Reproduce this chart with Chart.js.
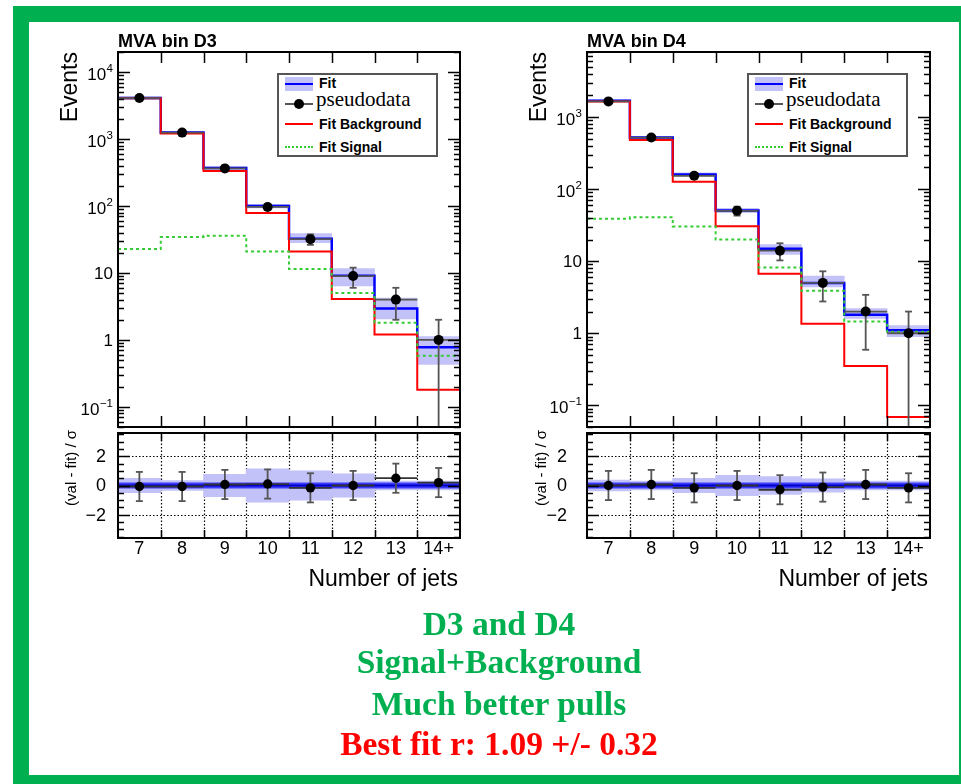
<!DOCTYPE html>
<html><head><meta charset="utf-8">
<script src="https://cdn.jsdelivr.net/npm/chart.js@4.4.1/dist/chart.umd.min.js"></script>
<style>
html,body{margin:0;padding:0;background:#fff;}
body{width:961px;height:784px;position:relative;overflow:hidden;font-family:"Liberation Sans",Arial,sans-serif;}
#frame{position:absolute;left:13px;top:6px;width:962px;height:785px;box-sizing:border-box;border:16px solid #00b050;z-index:5;}
canvas{position:absolute;left:0;top:0;}
.legend{position:absolute;border:2px solid #555;background:#fff;box-sizing:border-box;width:161px;height:84px;z-index:3;}
.legend .t{position:absolute;font:bold 14px "Liberation Sans",Arial,sans-serif;line-height:14px;white-space:nowrap;color:#000;}
.legend .ts{position:absolute;font:21px "Liberation Serif","Times New Roman",serif;line-height:20px;white-space:nowrap;color:#000;}
.legend .s{position:absolute;}
.cap{position:absolute;left:0;width:998px;text-align:center;font:bold 33.5px "Liberation Serif","Times New Roman",serif;line-height:40px;white-space:nowrap;z-index:3;}
</style></head>
<body>
<div id="frame"></div>
<canvas id="c1" width="961" height="784"></canvas>
<canvas id="c2" width="961" height="784"></canvas>
<canvas id="c3" width="961" height="784"></canvas>
<canvas id="c4" width="961" height="784"></canvas>

<div class="legend" style="left:277px;top:73px;">
  <div class="s" style="left:6px;top:2px;width:28px;height:14px;background:rgb(194,194,248);"></div>
  <div class="s" style="left:6px;top:8px;width:28px;height:2px;background:#0000ff;"></div>
  <div class="t" style="left:40px;top:1px;">Fit</div>
  <div class="s" style="left:6px;top:28px;width:28px;height:2px;background:#555;"></div>
  <div class="s" style="left:15px;top:24px;width:10px;height:10px;border-radius:5px;background:#000;"></div>
  <div class="ts" style="left:37px;top:14px;">pseudodata</div>
  <div class="s" style="left:6px;top:48px;width:28px;height:2px;background:#ff0000;"></div>
  <div class="t" style="left:40px;top:42px;">Fit Background</div>
  <div class="s" style="left:6px;top:71px;width:28px;height:0;border-top:2px dotted #33cc33;"></div>
  <div class="t" style="left:40px;top:65px;">Fit Signal</div>
</div>
<div class="legend" style="left:747px;top:73px;">
  <div class="s" style="left:6px;top:2px;width:28px;height:14px;background:rgb(194,194,248);"></div>
  <div class="s" style="left:6px;top:8px;width:28px;height:2px;background:#0000ff;"></div>
  <div class="t" style="left:40px;top:1px;">Fit</div>
  <div class="s" style="left:6px;top:28px;width:28px;height:2px;background:#555;"></div>
  <div class="s" style="left:15px;top:24px;width:10px;height:10px;border-radius:5px;background:#000;"></div>
  <div class="ts" style="left:37px;top:14px;">pseudodata</div>
  <div class="s" style="left:6px;top:48px;width:28px;height:2px;background:#ff0000;"></div>
  <div class="t" style="left:40px;top:42px;">Fit Background</div>
  <div class="s" style="left:6px;top:71px;width:28px;height:0;border-top:2px dotted #33cc33;"></div>
  <div class="t" style="left:40px;top:65px;">Fit Signal</div>
</div>

<div class="cap" style="top:604px;color:#00b050;">D3 and D4</div>
<div class="cap" style="top:642px;color:#00b050;">Signal+Background</div>
<div class="cap" style="top:684px;color:#00b050;">Much better pulls</div>
<div class="cap" style="top:724px;color:#ff0000;">Best fit r: 1.09 +/- 0.32</div>

<script>
// ---------- data ----------
const cats = ['7','8','9','10','11','12','13','14+'];

const d3Fit     = [4100, 1250, 369, 100, 32.5, 9.1, 2.95, 0.78];
const d3Bkg     = [4077, 1215, 333, 79, 21, 4.1, 1.2, 0.18];
const d3Sig     = [22.8, 34.5, 36, 21, 11.5, 5.0, 1.8, 0.58];
const d3Data    = [4100, 1250, 365, 97, 32, 9, 4, 1];
const d3DataErr = [64, 35.4, 19.1, 9.8, 5.7, 3, 2, 1];
const d3BandLo  = [3930, 1200, 352, 94, 28.4, 6.4, 2.06, 0.43];
const d3BandHi  = [4280, 1300, 387, 106, 38.6, 11.6, 4.2, 1.12];
const d3Pull     = [-0.07, -0.07, 0.07, 0.1, -0.16, 0.0, 0.5, 0.2];
const d3PullErr  = [1, 1, 1, 1, 1, 1, 1, 1];
const d3PullBand = [0.5, 0.34, 0.77, 1.15, 1.0, 0.8, 0.3, 0.3];

const d4Fit     = [1680, 521, 160, 50.5, 14.9, 5.0, 1.8, 1.1];
const d4Bkg     = [1640, 482, 127, 30.6, 6.7, 1.35, 0.35, 0.069];
const d4Sig     = [38.8, 40.7, 30.4, 20, 8.2, 3.9, 1.46, 1.05];
const d4Data    = [1650, 520, 153, 50, 14, 5, 2, 1];
const d4DataErr = [40.6, 22.8, 12.4, 7.1, 3.74, 2.24, 1.41, 1];
const d4BandLo  = [1620, 500, 152, 47, 12.4, 4.4, 1.6, 0.9];
const d4BandHi  = [1740, 542, 168, 54, 17, 6.2, 2.2, 1.28];
const d4Pull     = [0.0, 0.07, -0.16, 0.0, -0.29, -0.11, 0.07, -0.16];
const d4PullErr  = [1, 1, 1, 1, 1, 1, 1, 1];
const d4PullBand = [0.37, 0.3, 0.5, 0.7, 0.62, 0.45, 0.3, 0.3];

const yTickDecadesD3 = [-1, 0, 1, 2, 3, 4];
const yTickDecadesD4 = [-1, 0, 1, 2, 3];
const pullTicks = [-2, 0, 2];

// ---------- helpers ----------
const BAND = 'rgb(194,194,248)';
const FONT = '"Liberation Sans", Arial, sans-serif';
const cfgs = {};

function stepPts(v){ const p = v.map((y,i)=>({x:i,y:y})); p.push({x:v.length,y:v[v.length-1]}); return p; }
function centerPts(v){ return v.map((y,i)=>({x:i+0.5,y:y})); }
function bandPts(lo,hi){ return lo.map((l,i)=>({x:i+0.5,y:[l,hi[i]]})); }

function line(ctx,x1,y1,x2,y2){ ctx.beginPath(); ctx.moveTo(x1,y1); ctx.lineTo(x2,y2); ctx.stroke(); }

const hep = {
  id:'hep',
  beforeDatasetsDraw(chart){
    const c = cfgs[chart.canvas.id]; if(!c || c.kind!=='pull') return;
    const ctx=chart.ctx, a=chart.chartArea, xs=chart.scales.x, ys=chart.scales.y;
    ctx.save(); ctx.strokeStyle='#000'; ctx.lineWidth=1.2; ctx.setLineDash([1.5,2]);
    for(let k=1;k<cats.length;k++){ const px=Math.round(xs.getPixelForValue(k))+0.5; line(ctx,px,a.top,px,a.bottom); }
    [-2,2].forEach(v=>{ const py=Math.round(ys.getPixelForValue(v))+0.5; line(ctx,a.left,py,a.right,py); });
    ctx.restore();
  },
  beforeDatasetDraw(chart,args){
    if(args.index!==0) return;
    const c = cfgs[chart.canvas.id]; if(!c) return;
    const ctx=chart.ctx, a=chart.chartArea, xs=chart.scales.x, ys=chart.scales.y;
    ctx.save(); ctx.strokeStyle='#555'; ctx.lineWidth=1.8;
    c.vals.forEach((v,i)=>{
      const xc=xs.getPixelForValue(i+0.5), xl=xs.getPixelForValue(i), xr=xs.getPixelForValue(i+1);
      const y=ys.getPixelForValue(v);
      const hi=v+c.errs[i], lo=v-c.errs[i];
      const yh=ys.getPixelForValue(hi);
      let yl, clamp=false;
      if(c.kind==='top' && lo<=ys.min){ yl=a.bottom; clamp=true; } else yl=ys.getPixelForValue(lo);
      line(ctx,xc,yh,xc,yl);
      line(ctx,xc-3.5,yh,xc+3.5,yh);
      if(!clamp) line(ctx,xc-3.5,yl,xc+3.5,yl);
      ctx.strokeStyle = c.kind==='pull' ? '#333' : '#555';
      line(ctx,xl,y,xr,y);
      ctx.strokeStyle='#555';
    });
    ctx.restore();
  },
  afterDraw(chart){
    const c = cfgs[chart.canvas.id]; if(!c) return;
    const ctx=chart.ctx, a=chart.chartArea, xs=chart.scales.x, ys=chart.scales.y;
    ctx.save(); ctx.strokeStyle='#000'; ctx.fillStyle='#000'; ctx.lineWidth=1.5; ctx.setLineDash([]);
    const tl = c.kind==='top'?11:8;
    for(let k=1;k<cats.length;k++){ const px=Math.round(xs.getPixelForValue(k))+0.5;
      line(ctx,px,a.top,px,a.top+tl); line(ctx,px,a.bottom,px,a.bottom-tl); }
    if(c.kind==='top'){
      const e0=Math.floor(Math.log10(ys.min)), e1=Math.ceil(Math.log10(ys.max));
      for(let e=e0;e<=e1;e++){ for(let m=1;m<=9;m++){ const v=m*Math.pow(10,e);
        if(v<ys.min||v>ys.max) continue; const py=Math.round(ys.getPixelForValue(v))+0.5; const len=m===1?12:6;
        line(ctx,a.left,py,a.left+len,py); line(ctx,a.right,py,a.right-len,py); } }
      c.decades.forEach(e=>{
        const py=ys.getPixelForValue(Math.pow(10,e)); const rx=a.left-5;
        ctx.textBaseline='middle';
        if(e===0||e===1){ ctx.font='17px '+FONT; ctx.textAlign='right'; ctx.fillText(e===0?'1':'10',rx,py+1); }
        else { const ex = e<0 ? '\u2212'+(-e) : String(e);
          ctx.font='11.5px '+FONT; const ew=ctx.measureText(ex).width; ctx.textAlign='right'; ctx.fillText(ex,rx,py-3);
          ctx.font='17px '+FONT; ctx.fillText('10',rx-ew-0.5,py+3); }
      });
      ctx.font='bold 18px '+FONT; ctx.textAlign='left'; ctx.textBaseline='alphabetic'; ctx.fillText(c.title,a.left,47);
      ctx.save(); ctx.translate(c.ytX,a.top); ctx.rotate(-Math.PI/2); ctx.font='23px '+FONT; ctx.textAlign='right'; ctx.textBaseline='alphabetic'; ctx.fillText('Events',0,0); ctx.restore();
    } else {
      for(let v=-3.5; v<=3.5001; v+=0.5){ const py=Math.round(ys.getPixelForValue(v))+0.5; const len=(Math.abs(v)%2===0)?12:6;
        line(ctx,a.left,py,a.left+len,py); line(ctx,a.right,py,a.right-len,py); }
      ctx.font='18px '+FONT; ctx.textAlign='right'; ctx.textBaseline='middle';
      pullTicks.forEach(v=>{ const py=ys.getPixelForValue(v); ctx.fillText(v<0?'\u2212'+(-v):String(v),a.left-c.labGap,py+1); });
      ctx.textAlign='center';
      cats.forEach((t,i)=>{ ctx.fillText(t,xs.getPixelForValue(i+0.5),549); });
      ctx.font='23px '+FONT; ctx.textAlign='right'; ctx.textBaseline='alphabetic'; ctx.fillText('Number of jets',a.right-2,586);
      ctx.save(); ctx.translate(c.ytX,430); ctx.rotate(-Math.PI/2); ctx.font='15px '+FONT; ctx.textAlign='right'; ctx.textBaseline='alphabetic'; ctx.fillText('(val - fit) / \u03c3',0,0); ctx.restore();
    }
    ctx.lineWidth=2; ctx.strokeRect(Math.round(a.left),Math.round(a.top),Math.round(a.right-a.left),Math.round(a.bottom-a.top));
    ctx.restore();
  }
};

function topChart(id, pad, fit, bkg, sig, dat, err, lo, hi, ymin, ymax, title, decades, ytX){
  cfgs[id] = {kind:'top', vals:dat, errs:err, title:title, decades:decades, ytX:ytX};
  return new Chart(document.getElementById(id), {
    type:'line',
    data:{ datasets:[
      {type:'scatter', data:centerPts(dat), pointRadius:5, pointBackgroundColor:'#000', pointBorderColor:'#000', pointBorderWidth:0, showLine:false},
      {data:stepPts(sig), stepped:true, borderColor:'#33cc33', borderWidth:2, borderDash:[3,3], pointRadius:0, fill:false},
      {data:stepPts(bkg), stepped:true, borderColor:'#ff0000', borderWidth:2, pointRadius:0, fill:false},
      {data:stepPts(fit), stepped:true, borderColor:'#0000ff', borderWidth:2.5, pointRadius:0, fill:false},
      {type:'bar', data:bandPts(lo,hi), backgroundColor:BAND, borderWidth:0, barPercentage:1, categoryPercentage:1}
    ]},
    options:{
      responsive:false, animation:false, events:[],
      layout:{padding:pad},
      plugins:{legend:{display:false}, tooltip:{enabled:false}, title:{display:false}},
      scales:{
        x:{type:'linear', min:0, max:cats.length, offset:false, display:false},
        y:{type:'logarithmic', min:ymin, max:ymax, display:false}
      }
    },
    plugins:[hep]
  });
}

function pullChart(id, pad, pull, perr, band, labGap, ytX){
  cfgs[id] = {kind:'pull', vals:pull, errs:perr, labGap:labGap, ytX:ytX};
  const lo = band.map(b=>-b), hi = band.slice();
  return new Chart(document.getElementById(id), {
    type:'line',
    data:{ datasets:[
      {type:'scatter', data:centerPts(pull), pointRadius:4.7, pointBackgroundColor:'#000', pointBorderColor:'#000', pointBorderWidth:0, showLine:false},
      {data:[{x:0,y:0},{x:cats.length,y:0}], borderColor:'#0000c8', borderWidth:2, pointRadius:0, fill:false},
      {data:[{x:0,y:0},{x:cats.length,y:0}], borderColor:'rgb(60,60,255)', borderWidth:6, pointRadius:0, fill:false},
      {type:'bar', data:bandPts(lo,hi), backgroundColor:BAND, borderWidth:0, barPercentage:1, categoryPercentage:1}
    ]},
    options:{
      responsive:false, animation:false, events:[],
      layout:{padding:pad},
      plugins:{legend:{display:false}, tooltip:{enabled:false}, title:{display:false}},
      scales:{
        x:{type:'linear', min:0, max:cats.length, offset:false, display:false},
        y:{type:'linear', min:-3.6, max:3.6, display:false}
      }
    },
    plugins:[hep]
  });
}

topChart('c1', {left:118, top:52, right:501, bottom:357}, d3Fit, d3Bkg, d3Sig, d3Data, d3DataErr, d3BandLo, d3BandHi, 0.05, 20000, 'MVA bin D3', yTickDecadesD3, 77);
pullChart('c2', {left:118, top:433, right:501, bottom:246}, d3Pull, d3PullErr, d3PullBand, 12, 76);
topChart('c3', {left:587, top:52, right:31, bottom:357}, d4Fit, d4Bkg, d4Sig, d4Data, d4DataErr, d4BandLo, d4BandHi, 0.05, 8000, 'MVA bin D4', yTickDecadesD4, 546);
pullChart('c4', {left:587, top:433, right:31, bottom:246}, d4Pull, d4PullErr, d4PullBand, 20, 546);
</script>
</body></html>
